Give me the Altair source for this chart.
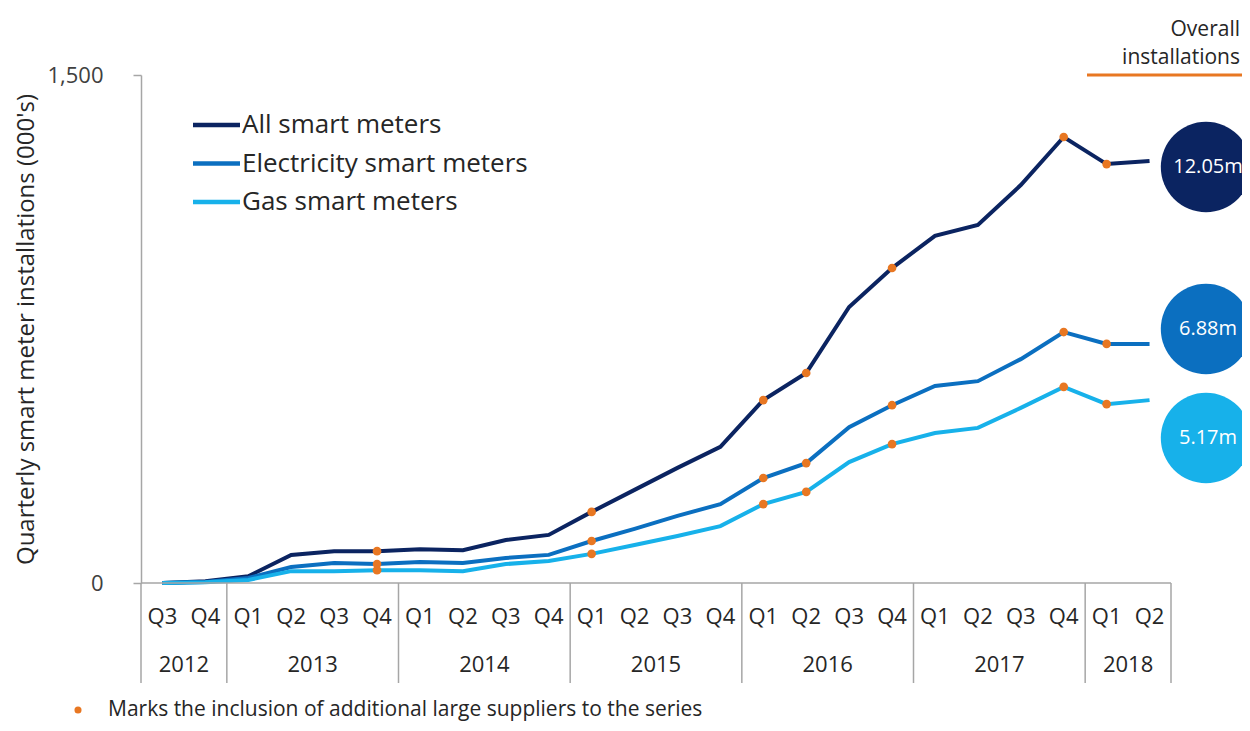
import math
import altair as alt
import pandas as pd

# ---------------- data ----------------
years = ["2012", "2013", "2014", "2015", "2016", "2017", "2018"]
year_quarters = [
    ["Q3", "Q4"],
    ["Q1", "Q2", "Q3", "Q4"],
    ["Q1", "Q2", "Q3", "Q4"],
    ["Q1", "Q2", "Q3", "Q4"],
    ["Q1", "Q2", "Q3", "Q4"],
    ["Q1", "Q2", "Q3", "Q4"],
    ["Q1", "Q2"],
]
series_names = ["All smart meters", "Electricity smart meters", "Gas smart meters"]
series_colors = ["#0b2461", "#0b6fc0", "#17b1ea"]

all_meters = [0, 5, 20, 83, 94, 94, 100, 97, 127, 142, 210, 275, 340, 402,
              540, 620, 815, 930, 1025, 1057, 1175, 1317, 1237, 1246]
electricity_meters = [0, 3, 15, 47, 59, 56, 62, 59, 74, 83, 124, 160, 198, 233,
                      310, 354, 460, 525, 582, 596, 661, 741, 706, 706]
gas_meters = [0, 2, 9, 35, 35, 38, 38, 35, 56, 65, 86, 112, 139, 168,
              233, 269, 357, 410, 443, 458, 517, 579, 528, 540]

# quarters (index into the series) where additional large suppliers were included
marker_quarters = [5, 10, 14, 15, 17, 21, 22]

overall_labels = ["12.05m", "6.88m", "5.17m"]
y_ticks = [0, 1500]
y_title = "Quarterly  smart meter installations (000's)"
overall_title = ["Overall", "installations"]
footnote = "Marks the inclusion of additional large suppliers to the series"

# ---------------- tables ----------------
quarters = [q for qs in year_quarters for q in qs]
n = len(quarters)

rows = []
for name, vals in zip(series_names, [all_meters, electricity_meters, gas_meters]):
    for i, v in enumerate(vals):
        rows.append({"series": name, "idx": i, "value": v, "marker": i in marker_quarters})
df = pd.DataFrame(rows)

q_df = pd.DataFrame({"idx": list(range(n)), "q": quarters})
bounds = [-0.5]
centers = []
start = 0
for qs in year_quarters:
    centers.append(start + (len(qs) - 1) / 2)
    start += len(qs)
    bounds.append(start - 0.5)
y_df = pd.DataFrame({"c": centers, "year": years})
b_df = pd.DataFrame({"b": bounds})

# ---------------- chart ----------------
W, H = 1030, 508
FONT = "Open Sans"
TXT = "#262626"
AXC = "#a6a6a6"
ORANGE = "#e87722"

xscale = alt.Scale(domain=[-0.5, n - 0.5], nice=False, zero=False)
yscale = alt.Scale(domain=[0, 1500], nice=False)
cscale = alt.Scale(domain=series_names, range=series_colors)

base = alt.Chart(df)

lines = base.mark_line(strokeWidth=4).encode(
    x=alt.X("idx:Q", scale=xscale, axis=None),
    y=alt.Y(
        "value:Q",
        scale=yscale,
        axis=alt.Axis(
            values=y_ticks, format=",d", title=y_title, grid=False,
            domainColor=AXC, tickColor=AXC, tickSize=8, domainWidth=1.5, tickWidth=1.5,
            labelFontSize=22, labelColor="#404040", labelPadding=30, labelFont=FONT,
            titleFont=FONT, titleFontSize=24, titleFontWeight="normal", titleColor=TXT,
            titleX=-115, titleY=H / 2, titleAngle=270, titleAlign="center",
            titleBaseline="middle",
        ),
    ),
    color=alt.Color("series:N", scale=cscale, legend=None),
)

markers = base.transform_filter("datum.marker").mark_circle(
    size=75, color=ORANGE, opacity=1
).encode(x=alt.X("idx:Q", scale=xscale), y=alt.Y("value:Q", scale=yscale))

baseline = alt.Chart(b_df.head(1)).mark_rule(color=AXC, strokeWidth=1.5).encode(
    x=alt.value(0), x2=alt.value(W), y=alt.value(H)
)
separators = alt.Chart(b_df).mark_rule(color=AXC, strokeWidth=1.5).encode(
    x=alt.X("b:Q", scale=xscale), y=alt.value(H), y2=alt.value(H + 100)
)
q_labels = alt.Chart(q_df).mark_text(
    font=FONT, fontSize=22, color=TXT, baseline="middle", align="center"
).encode(x=alt.X("idx:Q", scale=xscale), y=alt.value(H + 34), text="q:N")
yr_labels = alt.Chart(y_df).mark_text(
    font=FONT, fontSize=22, color=TXT, baseline="middle", align="center"
).encode(x=alt.X("c:Q", scale=xscale), y=alt.value(H + 82), text="year:N")

layers = [lines, markers, baseline, separators, q_labels, yr_labels]

# legend (drawn manually)
one = pd.DataFrame({"k": [0]})
for i, (name, col) in enumerate(zip(series_names, series_colors)):
    ly = 50 + 38.5 * i
    layers.append(
        alt.Chart(one).mark_rule(color=col, strokeWidth=4.5).encode(
            x=alt.value(52), x2=alt.value(99), y=alt.value(ly)
        )
    )
    layers.append(
        alt.Chart(pd.DataFrame({"t": [name]})).mark_text(
            font=FONT, fontSize=26, color=TXT, align="left", baseline="middle"
        ).encode(x=alt.value(101), y=alt.value(ly), text="t:N")
    )

# overall installation bubbles
bubble_y = [92, 254, 363]
for lab, col, by in zip(overall_labels, series_colors, bubble_y):
    layers.append(
        alt.Chart(pd.DataFrame({"t": [lab]})).mark_circle(
            size=math.pi * 51 ** 2, color=col, opacity=1
        ).encode(x=alt.value(1065), y=alt.value(by))
    )
    layers.append(
        alt.Chart(pd.DataFrame({"t": [lab]})).mark_text(
            font=FONT, fontSize=20, color="white", align="center", baseline="middle"
        ).encode(x=alt.value(1067), y=alt.value(by), text="t:N")
    )

# "Overall installations" header
for j, t in enumerate(overall_title):
    layers.append(
        alt.Chart(pd.DataFrame({"t": [t]})).mark_text(
            font=FONT, fontSize=21, color=TXT, align="right", baseline="middle"
        ).encode(x=alt.value(1099), y=alt.value(-45 + 28 * j), text="t:N")
    )
layers.append(
    alt.Chart(one).mark_rule(color=ORANGE, strokeWidth=3).encode(
        x=alt.value(946), x2=alt.value(1101), y=alt.value(0)
    )
)

# footnote
layers.append(
    alt.Chart(one).mark_circle(size=50, color=ORANGE, opacity=1).encode(
        x=alt.value(-63), y=alt.value(635)
    )
)
layers.append(
    alt.Chart(pd.DataFrame({"t": [footnote]})).mark_text(
        font=FONT, fontSize=21, color=TXT, align="left", baseline="middle"
    ).encode(x=alt.value(-33), y=alt.value(635), text="t:N")
)

chart = alt.layer(*layers).properties(
    width=W,
    height=H,
    padding={"left": 133, "top": 67, "right": 71, "bottom": 140},
    autosize=alt.AutoSizeParams(type="none"),
).configure_view(stroke=None)

chart.save("out.html", embed_options={"renderer": "svg", "actions": False})
